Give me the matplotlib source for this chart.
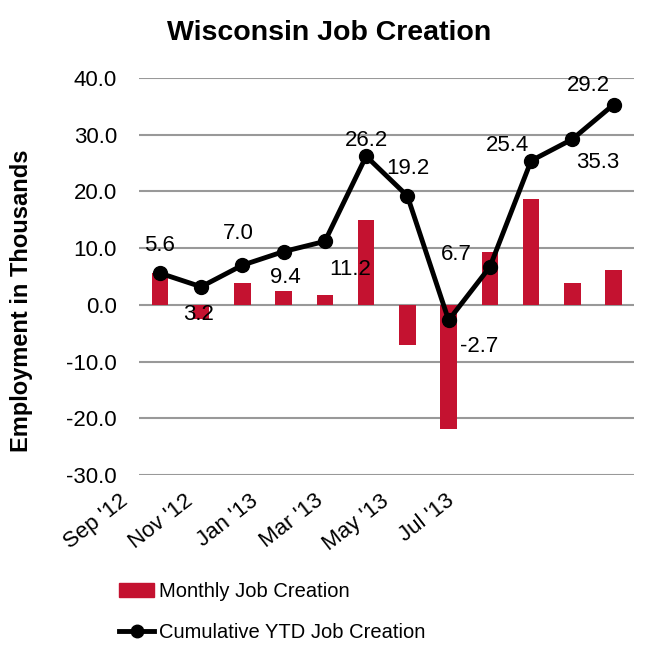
import matplotlib
matplotlib.use("Agg")
import matplotlib.pyplot as plt
from matplotlib.patches import Patch
from matplotlib.lines import Line2D

plt.rcParams['font.family'] = ['Liberation Sans', 'DejaVu Sans']

months = ["Sep '12", "Oct '12", "Nov '12", "Dec '12", "Jan '13", "Feb '13",
          "Mar '13", "Apr '13", "May '13", "Jun '13", "Jul '13", "Aug '13"]
monthly = [5.6, -2.4, 3.8, 2.4, 1.8, 15.0, -7.0, -21.9, 9.4, 18.7, 3.8, 6.1]
cumulative = [5.6, 3.2, 7.0, 9.4, 11.2, 26.2, 19.2, -2.7, 6.7, 25.4, 29.2, 35.3]
# labels as printed on the original chart (last two appear swapped there)
point_labels = ["5.6", "3.2", "7.0", "9.4", "11.2", "26.2", "19.2", "-2.7",
                "6.7", "25.4", "35.3", "29.2"]
# label offsets in points from each marker
label_offsets = [(0, 20), (-2, -20), (-3, 23), (1, -19), (18, -20), (0, 11),
                 (0, 20), (22, -19), (-24, 9), (-17, 11), (18, -17), (-18, 14)]
shown_ticks = ["Sep '12", "Nov '12", "Jan '13", "Mar '13", "May '13", "Jul '13"]
yticks = [-30, -20, -10, 0, 10, 20, 30, 40]

red = '#C41230'

fig = plt.figure(figsize=(6.6, 6.6), dpi=100)
ax = fig.add_axes([0.211, 0.280, 0.750, 0.602])

x = list(range(len(months)))
ax.bar(x, monthly, width=0.4, color=red, zorder=2)
ax.plot(x, cumulative, color='black', lw=3.5, marker='o', ms=10, zorder=3)

for i, (lab, off) in enumerate(zip(point_labels, label_offsets)):
    ax.annotate(lab, (x[i], cumulative[i]), xytext=off, textcoords='offset points',
                ha='center', va='center', fontsize=16, zorder=4)

ax.set_xlim(-0.5, len(months) - 0.5)
ax.set_ylim(-30, 40)
ax.set_yticks(yticks)
ax.set_yticklabels([f"{v:.1f}" for v in yticks], fontsize=16)
ax.tick_params(axis='y', length=0, pad=16)
ax.set_xticks([])
ax.grid(axis='y', color='#999999', lw=1.5, zorder=0)
for s in ax.spines.values():
    s.set_visible(False)

# category labels, placed like the original (spread slightly narrower than the bars)
for k, lab in enumerate(shown_ticks):
    ax.text(-0.04 + 0.1315 * k, -0.038, lab, transform=ax.transAxes, rotation=38,
            rotation_mode='anchor', ha='right', va='top', fontsize=16)

ax.set_ylabel("Employment in Thousands", fontsize=17, fontweight='bold')
ax.yaxis.set_label_coords(-0.214, 0.44)

fig.text(0.498, 0.950, "Wisconsin Job Creation", ha='center', va='center',
         fontsize=20.5, fontweight='bold')

handles = [Patch(color=red),
           Line2D([0], [0], color='black', lw=3.5, marker='o', ms=9)]
leg = fig.legend(handles, ["Monthly Job Creation", "Cumulative YTD Job Creation"],
                 loc='upper left', bbox_to_anchor=(0.168, 0.130), frameon=False,
                 fontsize=14.5, handlelength=1.75, handletextpad=0.25, labelspacing=1.1,
                 borderaxespad=0)

fig.savefig("out.png", dpi=100)
